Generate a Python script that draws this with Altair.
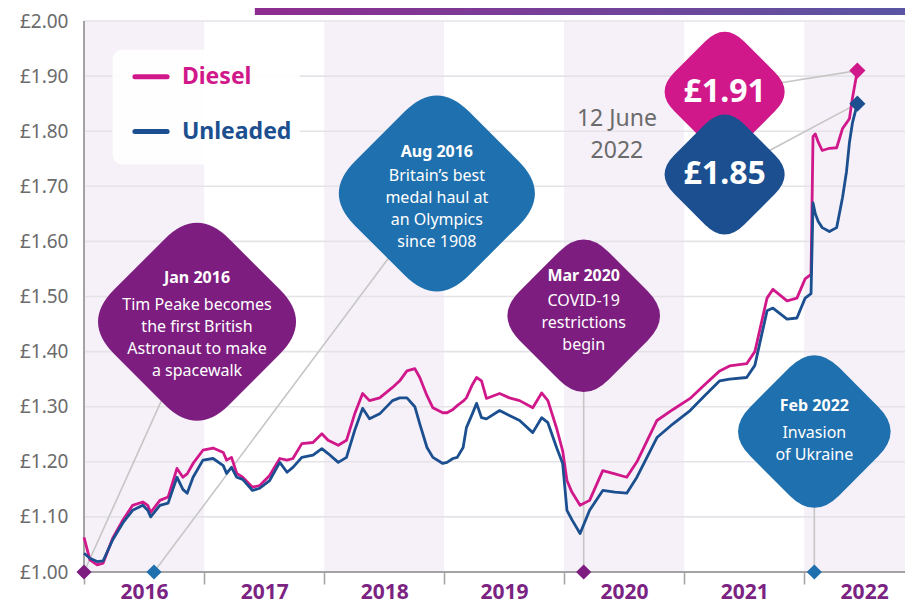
import altair as alt
import pandas as pd

# ---------------- values ----------------
dates = [
    "2016-01-01", "2016-01-19", "2016-02-10", "2016-02-28", "2016-03-28", "2016-04-28", "2016-05-28", "2016-06-28",
    "2016-07-13", "2016-07-22", "2016-08-19", "2016-09-13", "2016-10-10", "2016-10-28", "2016-11-10", "2016-11-28",
    "2016-12-28",
    "2017-01-28", "2017-02-28", "2017-03-10", "2017-03-25", "2017-04-10", "2017-04-28", "2017-05-28", "2017-06-19",
    "2017-07-19", "2017-08-19", "2017-09-10", "2017-09-28", "2017-10-25", "2017-11-28", "2017-12-25",
    "2018-01-13", "2018-02-13", "2018-03-10", "2018-04-04", "2018-04-28", "2018-05-19", "2018-06-19", "2018-07-28",
    "2018-08-19", "2018-09-10", "2018-10-04", "2018-10-19", "2018-11-10", "2018-11-28", "2018-12-28",
    "2019-01-10", "2019-01-28", "2019-02-10", "2019-02-28", "2019-03-10", "2019-03-28", "2019-04-10", "2019-04-25",
    "2019-05-10", "2019-06-19", "2019-07-19", "2019-08-19", "2019-09-28", "2019-10-25", "2019-11-13", "2019-12-10",
    "2019-12-28",
    "2020-01-10", "2020-01-25", "2020-02-19", "2020-03-19", "2020-04-28", "2020-06-04", "2020-07-10", "2020-08-10",
    "2020-10-10", "2020-11-28",
    "2021-01-19", "2021-03-04", "2021-04-19", "2021-05-19", "2021-07-10", "2021-08-04", "2021-09-10", "2021-09-28",
    "2021-11-10", "2021-12-10",
    "2022-01-04", "2022-01-22", "2022-01-28", "2022-02-04", "2022-02-13", "2022-02-25", "2022-03-19", "2022-04-10",
    "2022-04-28", "2022-05-10", "2022-05-19", "2022-05-28", "2022-06-12",
]

diesel = [
    1.063, 1.022, 1.013, 1.016, 1.061, 1.094, 1.121, 1.127, 1.121, 1.108, 1.130, 1.136, 1.188, 1.172, 1.178, 1.197, 1.221,
    1.225, 1.217, 1.203, 1.208, 1.179, 1.172, 1.154, 1.157, 1.175, 1.206, 1.203, 1.206, 1.233, 1.235, 1.251,
    1.239, 1.230, 1.239, 1.287, 1.324, 1.311, 1.316, 1.335, 1.347, 1.365, 1.369, 1.353, 1.320, 1.298, 1.289,
    1.289, 1.295, 1.302, 1.310, 1.316, 1.340, 1.353, 1.347, 1.315, 1.324, 1.316, 1.311, 1.298, 1.325, 1.311, 1.260, 1.220,
    1.166, 1.145, 1.121, 1.130, 1.184, 1.178, 1.172, 1.200, 1.275, 1.295,
    1.315, 1.340, 1.365, 1.374, 1.378, 1.400, 1.497, 1.513, 1.492, 1.497,
    1.532, 1.540, 1.790, 1.795, 1.780, 1.765, 1.769, 1.770, 1.805, 1.815, 1.823, 1.860, 1.910,
]

unleaded = [
    1.034, 1.025, 1.019, 1.020, 1.058, 1.089, 1.112, 1.121, 1.112, 1.100, 1.121, 1.125, 1.172, 1.150, 1.143, 1.172, 1.203,
    1.206, 1.193, 1.179, 1.190, 1.172, 1.168, 1.148, 1.152, 1.166, 1.199, 1.181, 1.190, 1.208, 1.212, 1.224,
    1.215, 1.199, 1.208, 1.257, 1.297, 1.278, 1.287, 1.311, 1.316, 1.316, 1.300, 1.269, 1.226, 1.208, 1.197,
    1.199, 1.206, 1.208, 1.226, 1.262, 1.287, 1.306, 1.280, 1.278, 1.293, 1.284, 1.275, 1.253, 1.280, 1.271, 1.225, 1.197,
    1.112, 1.095, 1.070, 1.112, 1.148, 1.145, 1.143, 1.172, 1.244, 1.269,
    1.293, 1.320, 1.347, 1.350, 1.353, 1.375, 1.474, 1.479, 1.459, 1.461,
    1.497, 1.505, 1.670, 1.650, 1.636, 1.625, 1.618, 1.625, 1.680, 1.727, 1.780, 1.815, 1.850,
]

series_names = ["Diesel", "Unleaded"]
series_colors = ["#d1188b", "#1b4f8f"]

years = [2016, 2017, 2018, 2019, 2020, 2021, 2022]
shaded_years = [2016, 2018, 2020, 2022]
price_ticks = [1.0, 1.1, 1.2, 1.3, 1.4, 1.5, 1.6, 1.7, 1.8, 1.9, 2.0]

event_titles = ["Jan 2016", "Aug 2016", "Mar 2020", "Feb 2022"]
event_texts = [
    "Tim Peake becomes\nthe first British\nAstronaut to make\na spacewalk",
    "Britain\u2019s best\nmedal haul at\nan Olympics\nsince 1908",
    "COVID-19\nrestrictions\nbegin",
    "Invasion\nof Ukraine",
]
event_dates = ["2016-01-01", "2016-08-01", "2020-03-01", "2022-02-01"]
event_colors = ["#7d1d80", "#1f70ae", "#7d1d80", "#1f70ae"]

# placement of the call-out boxes, in data units (date, price)
box_dates = ["2016-12-10", "2018-12-10", "2020-03-01", "2022-02-01"]
box_prices = [1.454, 1.687, 1.465, 1.255]
box_title_prices = [1.5335, 1.7631, 1.5371, 1.3020]
box_body_prices = [1.4846, 1.7179, 1.4919, 1.2514]   # first line of each body
box_areas = [53000, 52000, 31500, 31500]

latest_box_date = "2021-05-04"
latest_box_prices = [1.8716, 1.7215]
latest_box_area = 19500
latest_note_date = "2020-06-10"
latest_note_price = 1.8228

legend_box = {"start": "2016-03-28", "end": "2017-10-19", "lo": 1.7396, "hi": 1.9476}
legend_prices = [1.8987, 1.7993]
legend_line = ("2016-06-04", "2016-09-10")
legend_text_date = "2016-10-25"

banner_span = ("2017-06-04", "2022-11-04", 2.011, 2.05)

# ---------------- chart ----------------
W, H = 821, 551
FONT = "Noto Sans"
BAND = "#f6f1f8"
GRID = "#e6e3e8"
AXIS = "#a3a3a3"
GREY_TEXT = "#6b6b6b"
YEAR_COLOR = "#7b2382"


def ts(s):
    return int(pd.Timestamp(s).value // 10**6)


XS = alt.Scale(domain=[ts("2016-01-01"), ts("2022-11-04")], nice=False)
YS = alt.Scale(domain=[1.0, 2.0], nice=False, zero=False)

AX = alt.Axis(
    values=[ts(f"{y}-01-01") for y in years],
    labelExpr="utcFormat(datum.value, '%Y')",
    labelOffset=60, labelFlush=False, labelOverlap=False,
    tickSize=12, tickWidth=1.5, tickColor=AXIS, domain=False, grid=False,
    labelFont=FONT, labelFontSize=21, labelFontWeight="bold", labelColor=YEAR_COLOR,
    labelPadding=8, labelBaseline="middle", title=None)
AY = alt.Axis(
    values=price_ticks, labelExpr="'£' + format(datum.value, '.2f')",
    domain=False, ticks=False, grid=False, labelOverlap=False,
    labelFont=FONT, labelFontSize=19, labelColor=GREY_TEXT, labelPadding=16, title=None)


def X(f):
    return alt.X(f, type="temporal", scale=XS, axis=AX)


def Y(f):
    return alt.Y(f, type="quantitative", scale=YS, axis=AY)


# decorative banner at the top
banner_df = pd.DataFrame({"start": [banner_span[0]], "end": [banner_span[1]],
                          "lo": [banner_span[2]], "hi": [banner_span[3]]})
banner = alt.Chart(banner_df).mark_rect(
    color=alt.LinearGradient(
        gradient="linear",
        stops=[alt.GradientStop(color="#8e2c8f", offset=0), alt.GradientStop(color="#5a55a3", offset=1)],
        x1=0, x2=1, y1=0, y2=0,
    )
).encode(x=X("start"), x2="end", y=Y("lo"), y2="hi")

# alternating year bands
bands_df = pd.DataFrame({
    "start": [f"{y}-01-01" for y in shaded_years],
    "end": [f"{y + 1}-01-01" for y in shaded_years],
    "lo": [price_ticks[0]] * len(shaded_years),
    "hi": [price_ticks[-1]] * len(shaded_years),
})
bands = alt.Chart(bands_df).mark_rect(color=BAND, clip=True).encode(
    x=X("start"), x2="end", y=Y("lo"), y2="hi")

grid = alt.Chart(pd.DataFrame({"p": price_ticks[1:]})).mark_rule(color=GRID, strokeWidth=1.6).encode(y=Y("p"))

x_line = alt.Chart(pd.DataFrame({"p": [price_ticks[0]]})).mark_rule(color=AXIS, strokeWidth=2).encode(y=Y("p"))
y_line = alt.Chart(pd.DataFrame({"d": [f"{years[0]}-01-01"]})).mark_rule(color=AXIS, strokeWidth=2).encode(x=X("d"))

# connectors from markers to call-outs
conn_df = pd.DataFrame({
    "d0": event_dates + [dates[-1], dates[-1]],
    "p0": [price_ticks[0]] * 4 + [diesel[-1], unleaded[-1]],
    "d1": box_dates + [latest_box_date, latest_box_date],
    "p1": box_prices + latest_box_prices,
})
connectors = alt.Chart(conn_df).mark_rule(color="#c6c6c6", strokeWidth=1.6).encode(
    x=X("d0"), y=Y("p0"), x2="d1", y2="p1")

series_df = pd.DataFrame({
    "date": dates * 2,
    "price": diesel + unleaded,
    "fuel": [series_names[0]] * len(dates) + [series_names[1]] * len(dates),
})
lines = alt.Chart(series_df).mark_line(strokeWidth=2.8, strokeJoin="round").encode(
    x=X("date"), y=Y("price"),
    color=alt.Color("fuel:N", scale=alt.Scale(domain=series_names, range=series_colors), legend=None),
)

ev_df = pd.DataFrame({
    "date": event_dates, "p": [price_ticks[0]] * 4, "color": event_colors,
    "bdate": box_dates, "bp": box_prices, "tp": box_title_prices, "bodyp": box_body_prices,
    "area": box_areas, "title": event_titles, "body": event_texts,
})
ev_markers = alt.Chart(ev_df).mark_point(shape="diamond", filled=True, size=230, opacity=1, strokeWidth=0).encode(
    x=X("date"), y=Y("p"), color=alt.Color("color:N", scale=None))

end_df = pd.DataFrame({
    "date": [dates[-1], dates[-1]], "p": [diesel[-1], unleaded[-1]], "color": series_colors,
    "bp": latest_box_prices, "bdate": [latest_box_date] * 2,
    "label": [f"£{diesel[-1]:.2f}", f"£{unleaded[-1]:.2f}"],
})
end_markers = alt.Chart(end_df).mark_point(shape="diamond", filled=True, size=260, opacity=1, strokeWidth=0).encode(
    x=X("date"), y=Y("p"), color=alt.Color("color:N", scale=None))

RD = ("M-0.28,-0.72 Q0,-1 0.28,-0.72 L0.72,-0.28 Q1,0 0.72,0.28 L0.28,0.72 "
      "Q0,1 -0.28,0.72 L-0.72,0.28 Q-1,0 -0.72,-0.28 Z")

ev_boxes = alt.Chart(ev_df).mark_point(shape=RD, filled=True, opacity=1, strokeWidth=0).encode(
    x=X("bdate"), y=Y("bp"), size=alt.Size("area:Q", scale=None), color=alt.Color("color:N", scale=None))
ev_titles = alt.Chart(ev_df).mark_text(font=FONT, fontSize=16, fontWeight="bold", color="white").encode(
    x=X("bdate"), y=Y("tp"), text="title:N")
ev_bodies = alt.Chart(ev_df).mark_text(font=FONT, fontSize=16, color="white", lineBreak="\n", lineHeight=22).encode(
    x=X("bdate"), y=Y("bodyp"), text="body:N")

end_boxes = alt.Chart(end_df).mark_point(shape=RD, filled=True, opacity=1, strokeWidth=0, size=latest_box_area).encode(
    x=X("bdate"), y=Y("bp"), color=alt.Color("color:N", scale=None))
end_labels = alt.Chart(end_df).mark_text(font=FONT, fontSize=32, fontWeight="bold", color="white").encode(
    x=X("bdate"), y=Y("bp"), text="label:N")

last = pd.Timestamp(dates[-1])
note_df = pd.DataFrame({"date": [latest_note_date], "p": [latest_note_price],
                        "t": [f"{last.day} {last.strftime('%B')}\n{last.year}"]})
note = alt.Chart(note_df).mark_text(font=FONT, fontSize=23, color=GREY_TEXT, lineBreak="\n", lineHeight=32).encode(
    x=X("date"), y=Y("p"), text="t:N")

# legend
lb_df = pd.DataFrame([legend_box])
leg_box = alt.Chart(lb_df).mark_rect(color="white", opacity=0.92, cornerRadius=10).encode(
    x=X("start"), x2="end", y=Y("lo"), y2="hi")
leg_df = pd.DataFrame({"name": series_names, "color": series_colors, "p": legend_prices,
                       "s": [legend_line[0]] * 2, "e": [legend_line[1]] * 2, "td": [legend_text_date] * 2})
leg_lines = alt.Chart(leg_df).mark_rule(strokeWidth=5, strokeCap="round").encode(
    x=X("s"), x2="e", y=Y("p"), color=alt.Color("color:N", scale=None))
leg_text = alt.Chart(leg_df).mark_text(font=FONT, fontSize=23, fontWeight="bold", align="left").encode(
    x=X("td"), y=Y("p"), text="name:N", color=alt.Color("color:N", scale=None))

chart = alt.layer(
    banner, bands, grid, x_line, y_line, connectors, lines, ev_markers, end_markers,
    ev_boxes, end_boxes, ev_titles, ev_bodies, end_labels, note, leg_box, leg_lines, leg_text,
).properties(
    width=W, height=H,
    autosize=alt.AutoSizeParams(type="none"),
    padding={"left": 76, "top": 13, "right": 0, "bottom": 34},
    background="white",
).configure_view(stroke=None)

chart.save("out.html", embed_options={"renderer": "svg", "actions": False})
